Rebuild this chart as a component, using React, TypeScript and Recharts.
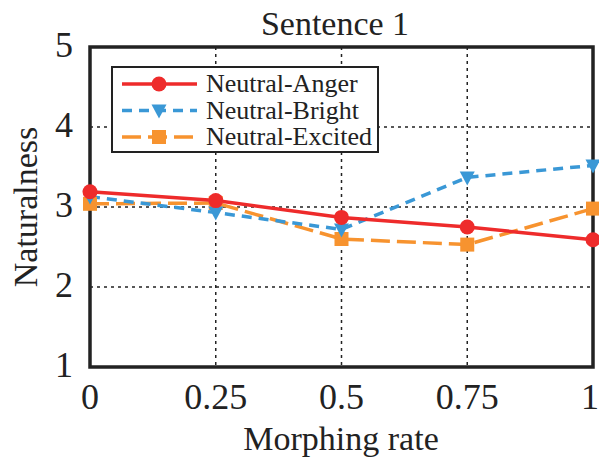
import { LineChart, Line, XAxis, YAxis, CartesianGrid, ReferenceArea } from "recharts";

const rates = [0, 0.25, 0.5, 0.75, 1];
const anger = [3.19, 3.08, 2.87, 2.75, 2.59];
const bright = [3.13, 2.93, 2.72, 3.37, 3.52];
const excited = [3.04, 3.05, 2.6, 2.53, 2.98];
const yTicks = [1, 2, 3, 4, 5];
const seriesNames = ["Neutral-Anger", "Neutral-Bright", "Neutral-Excited"];

const data = rates.map((r, i) => ({ rate: r, anger: anger[i], bright: bright[i], excited: excited[i] }));

const FONT = "'Liberation Serif', 'Times New Roman', serif";
const INK = "#222";
const RED = "#ee2b2b";
const BLUE = "#3a98d6";
const ORANGE = "#f7932f";

const Circle = (props: any) => {
  const { cx, cy } = props;
  return <circle cx={cx} cy={cy} r={7.5} fill={RED} stroke="none" />;
};

const Tri = (props: any) => {
  const { cx, cy } = props;
  return <path d={`M${cx - 7.5},${cy - 6} L${cx + 7.5},${cy - 6} L${cx},${cy + 8} Z`} fill={BLUE} />;
};

const Square = (props: any) => {
  const { cx, cy } = props;
  return <rect x={cx - 7} y={cy - 7} width={14} height={14} fill={ORANGE} />;
};

const LegendBox = () => {
  const rows = [
    { color: RED, dash: undefined, mark: Circle },
    { color: BLUE, dash: "10 7", mark: Tri },
    { color: ORANGE, dash: "19 7", mark: Square },
  ];
  return (
    <svg width={268} height={87} style={{ display: "block" }}>
      <rect x={1} y={1} width={266} height={85} fill="#fff" stroke={INK} strokeWidth={2} />
      {rows.map((r, i) => {
        const y = 18 + i * 26.5;
        const M = r.mark;
        return (
          <g key={i}>
            <line x1={11} x2={86} y1={y} y2={y} stroke={r.color} strokeWidth={3.5} strokeDasharray={r.dash} />
            <M cx={48} cy={y} />
            <text x={95} y={y + 8} fontFamily={FONT} fontSize={26} fill={INK}>
              {seriesNames[i]}
            </text>
          </g>
        );
      })}
    </svg>
  );
};

export default function App() {
  return (
    <div style={{ position: "absolute", left: 0, top: 0, width: 599, height: 462, background: "#fff" }}>
      <LineChart width={599} height={462} data={data} margin={{ top: 47, right: 6, bottom: 0, left: 0 }}>
        <text x={335} y={35} textAnchor="middle" fontFamily={FONT} fontSize={34} fill={INK}>
          Sentence 1
        </text>
        <text
          x={0}
          y={0}
          transform="translate(37,207) rotate(-90)"
          textAnchor="middle"
          fontFamily={FONT}
          fontSize={34}
          fill={INK}
        >
          Naturalness
        </text>
        <text x={341} y={450} textAnchor="middle" fontFamily={FONT} fontSize={34} fill={INK}>
          Morphing rate
        </text>
        <CartesianGrid stroke={INK} strokeDasharray="3 4" strokeWidth={1.5} />
        <XAxis
          dataKey="rate"
          type="number"
          domain={[0, 1]}
          ticks={rates}
          tickFormatter={(v: number) => String(v)}
          tickLine={false}
          axisLine={false}
          tick={{ fontFamily: FONT, fontSize: 36, fill: INK }}
          tickMargin={10}
          height={95}
        />
        <YAxis
          type="number"
          domain={[1, 5]}
          ticks={yTicks}
          tickLine={false}
          axisLine={false}
          width={90}
          tick={{ fontFamily: FONT, fontSize: 36, fill: INK, dy: -3 } as any}
          tickMargin={11}
        />
        <ReferenceArea x1={0} x2={1} y1={1} y2={5} fill="none" stroke={INK} strokeWidth={3.5} ifOverflow="visible" />
        <Line dataKey="excited" stroke={ORANGE} strokeWidth={3.5} strokeDasharray="19 7" dot={<Square />} isAnimationActive={false} />
        <Line dataKey="bright" stroke={BLUE} strokeWidth={3.5} strokeDasharray="10 7" dot={<Tri />} isAnimationActive={false} />
        <Line dataKey="anger" stroke={RED} strokeWidth={3.5} dot={<Circle />} isAnimationActive={false} />
      </LineChart>
      <div style={{ position: "absolute", left: 111, top: 66 }}>
        <LegendBox />
      </div>
    </div>
  );
}
